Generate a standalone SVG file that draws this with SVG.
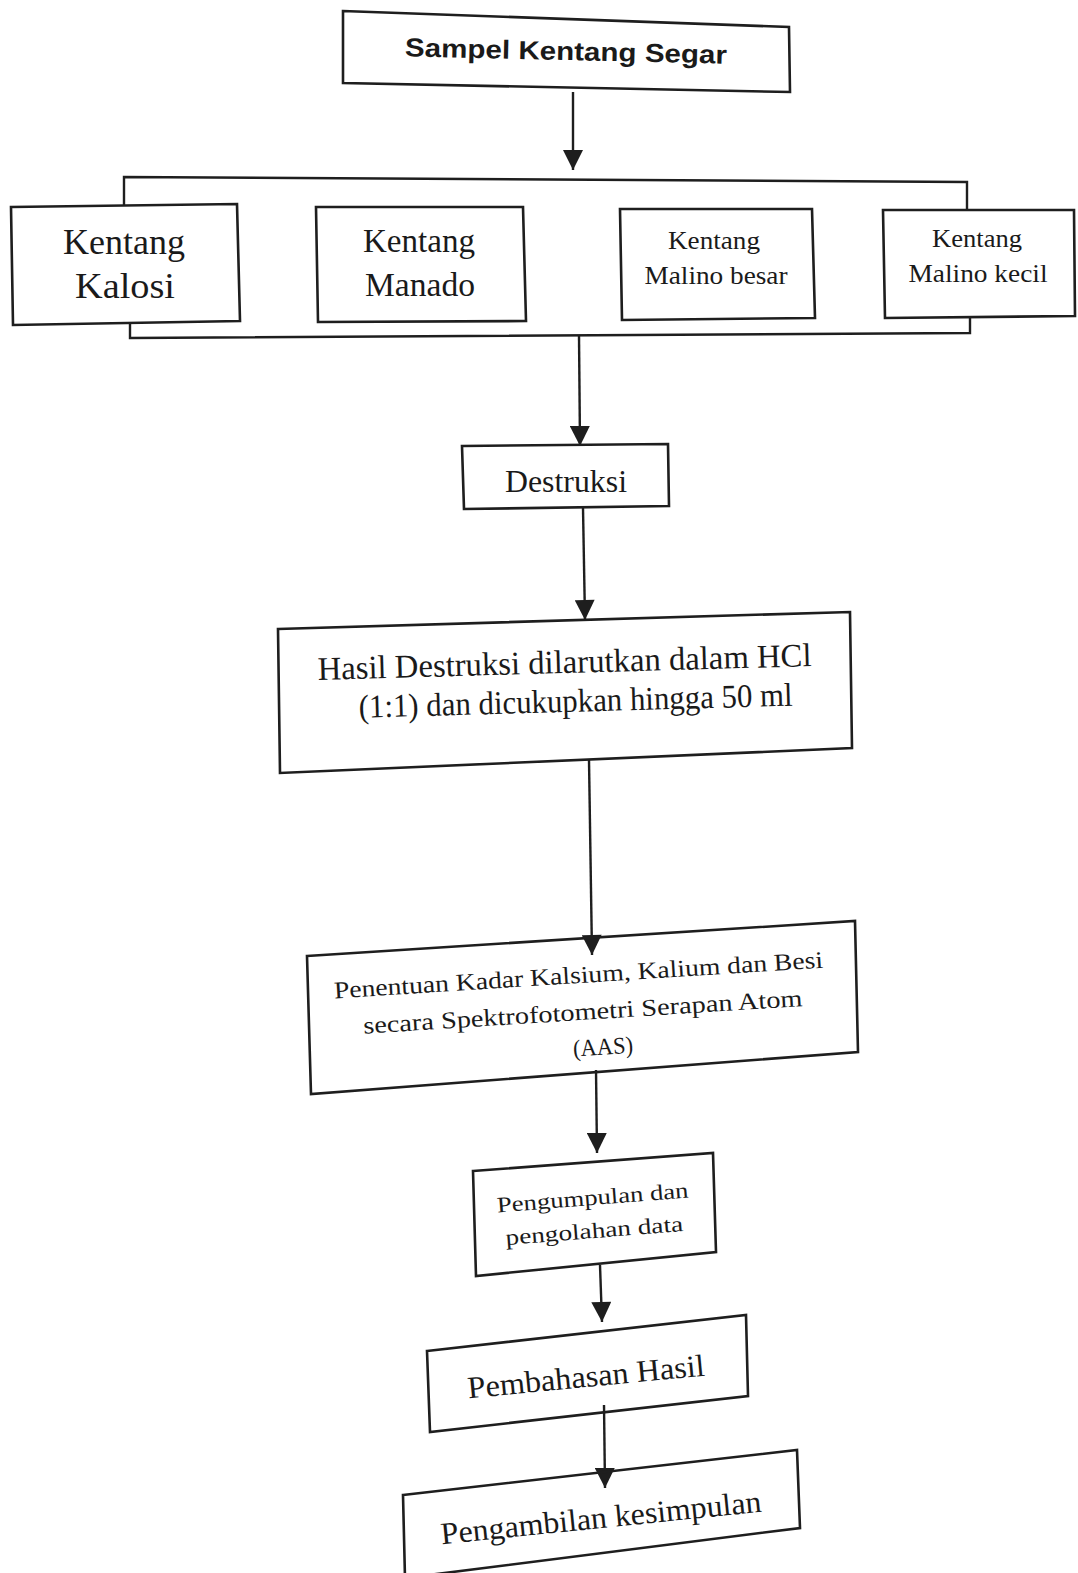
<svg xmlns="http://www.w3.org/2000/svg" width="1078" height="1573" viewBox="0 0 1078 1573">
<style>
.box{fill:none;stroke:#1e1e1e;stroke-width:2.6;stroke-linejoin:miter}
.ln{fill:none;stroke:#1e1e1e;stroke-width:2.4}
.ser{font-family:"Liberation Serif","Times New Roman",serif;fill:#1a1a1a;text-anchor:middle}
.sans{font-family:"Liberation Sans",Arial,sans-serif;font-weight:bold;fill:#1a1a1a;text-anchor:middle}
</style>
<defs>
<marker id="arr" viewBox="0 0 20 20" refX="20" refY="10" markerWidth="22" markerHeight="20" markerUnits="userSpaceOnUse" orient="auto">
<path d="M0,0 L20,10 L0,20 Z" fill="#1e1e1e"/>
</marker>
</defs>
<rect width="1078" height="1573" fill="#ffffff"/>

<g id="connectors">
<line class="ln" x1="573" y1="92" x2="573" y2="170" marker-end="url(#arr)"/>
<polyline class="ln" points="124,206 124,177 967,182 967,210"/>
<polyline class="ln" points="130,324 130,338 970,333 970,318"/>
<line class="ln" x1="579" y1="335" x2="580" y2="446" marker-end="url(#arr)"/>
<line class="ln" x1="583" y1="508" x2="585" y2="620" marker-end="url(#arr)"/>
<line class="ln" x1="589" y1="760" x2="592" y2="955" marker-end="url(#arr)"/>
<line class="ln" x1="596" y1="1070" x2="597" y2="1153" marker-end="url(#arr)"/>
<line class="ln" x1="600" y1="1265" x2="602" y2="1322" marker-end="url(#arr)"/>
<line class="ln" x1="604" y1="1405" x2="605" y2="1488" marker-end="url(#arr)"/>
</g>

<g id="node-sampel">
<polygon class="box" points="343,11 789,27 790,92 343,83"/>
<text class="sans" x="566" y="60" font-size="26" textLength="322" lengthAdjust="spacingAndGlyphs" transform="rotate(1.3 566 52)">Sampel Kentang Segar</text>
</g>

<g id="node-kalosi">
<polygon class="box" points="11,207 237,204 240,321 13,325"/>
<text class="ser" x="124" y="254" font-size="36" textLength="122" lengthAdjust="spacingAndGlyphs">Kentang</text>
<text class="ser" x="125" y="298" font-size="36" textLength="100" lengthAdjust="spacingAndGlyphs">Kalosi</text>
</g>

<g id="node-manado">
<polygon class="box" points="316,207 523,207 526,321 318,322"/>
<text class="ser" x="419" y="252" font-size="34" textLength="112" lengthAdjust="spacingAndGlyphs">Kentang</text>
<text class="ser" x="420" y="296" font-size="34" textLength="110" lengthAdjust="spacingAndGlyphs">Manado</text>
</g>

<g id="node-malino-besar">
<polygon class="box" points="620,209 812,209 815,318 622,320"/>
<text class="ser" x="714" y="249" font-size="25" textLength="92" lengthAdjust="spacingAndGlyphs">Kentang</text>
<text class="ser" x="716" y="284" font-size="25" textLength="143" lengthAdjust="spacingAndGlyphs">Malino besar</text>
</g>

<g id="node-malino-kecil">
<polygon class="box" points="883,210 1074,210 1075,316 885,318"/>
<text class="ser" x="977" y="247" font-size="25" textLength="90" lengthAdjust="spacingAndGlyphs">Kentang</text>
<text class="ser" x="978" y="282" font-size="25" textLength="139" lengthAdjust="spacingAndGlyphs">Malino kecil</text>
</g>

<g id="node-destruksi">
<polygon class="box" points="462,446 668,444 669,506 464,509"/>
<text class="ser" x="566" y="492" font-size="31" textLength="122" lengthAdjust="spacingAndGlyphs">Destruksi</text>
</g>

<g id="node-hcl">
<polygon class="box" points="278,629 850,612 852,748 280,773"/>
<g transform="rotate(-1.6 565 680)">
<text class="ser" x="565" y="673" font-size="33" textLength="494" lengthAdjust="spacingAndGlyphs">Hasil Destruksi dilarutkan dalam HCl</text>
<text class="ser" x="575" y="712" font-size="33" textLength="434" lengthAdjust="spacingAndGlyphs">(1:1) dan dicukupkan hingga 50 ml</text>
</g>
</g>

<g id="node-penentuan">
<polygon class="box" points="307,956 855,921 858,1052 311,1094"/>
<g transform="rotate(-3.6 580 1000)">
<text class="ser" x="580" y="983" font-size="24" textLength="490" lengthAdjust="spacingAndGlyphs">Penentuan Kadar Kalsium, Kalium dan Besi</text>
<text class="ser" x="582" y="1020" font-size="24" textLength="440" lengthAdjust="spacingAndGlyphs">secara Spektrofotometri Serapan Atom</text>
<text class="ser" x="600" y="1056" font-size="24" textLength="60" lengthAdjust="spacingAndGlyphs">(AAS)</text>
</g>
</g>

<g id="node-pengumpulan">
<polygon class="box" points="473,1171 713,1153 716,1252 476,1276"/>
<g transform="rotate(-4.5 593 1215)">
<text class="ser" x="594" y="1205" font-size="22" textLength="192" lengthAdjust="spacingAndGlyphs">Pengumpulan dan</text>
<text class="ser" x="593" y="1238" font-size="22" textLength="178" lengthAdjust="spacingAndGlyphs">pengolahan data</text>
</g>
</g>

<g id="node-pembahasan">
<polygon class="box" points="427,1351 746,1315 748,1396 430,1432"/>
<text class="ser" x="586" y="1387" font-size="31" textLength="238" lengthAdjust="spacingAndGlyphs" transform="rotate(-5.5 586 1377)">Pembahasan Hasil</text>
</g>

<g id="node-pengambilan">
<polygon class="box" points="403,1495 797,1450 800,1528 405,1578"/>
<text class="ser" x="601" y="1528" font-size="31" textLength="322" lengthAdjust="spacingAndGlyphs" transform="rotate(-5.8 601 1518)">Pengambilan kesimpulan</text>
</g>
</svg>
